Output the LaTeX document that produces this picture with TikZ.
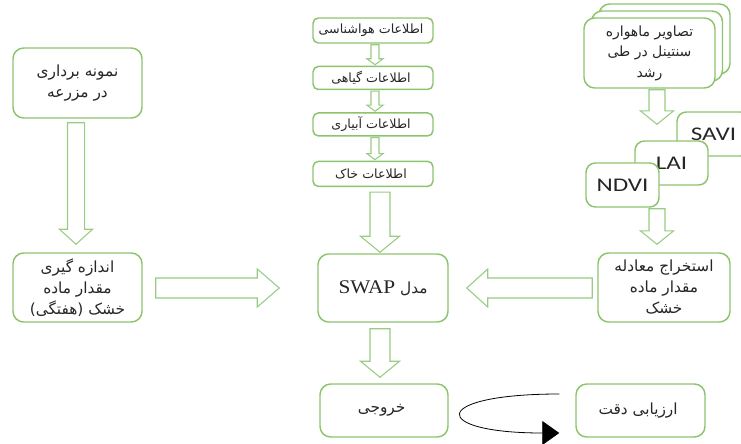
\documentclass[tikz,border=0pt]{standalone}
\usepackage{fontspec}
\usepackage{tikz}
\usetikzlibrary{arrows.meta,calc,positioning}
\TeXXeTstate=1
\newfontfamily\persianfont[Script=Arabic]{DejaVu Sans}
\newfontfamily\latinsans[FakeStretch=1.3]{Carlito}
\newfontfamily\latinserif[FakeStretch=1.1]{Liberation Serif}
\newcommand{\fa}[1]{{\persianfont\beginR #1\endR}}
\newcommand{\hollowarrow}[5]{%
	\path (#1) coordinate (hS) (#2) coordinate (hE);
	\path ($(hE)!#5!(hS)$) coordinate (hH);
	\draw[blockarrow] ($(hS)!#3!90:(hE)$) -- ($(hH)!#3!90:(hE)$) -- ($(hH)!#4!90:(hE)$) -- (hE)
		-- ($(hH)!#4!-90:(hE)$) -- ($(hH)!#3!-90:(hE)$) -- ($(hS)!#3!-90:(hE)$) -- cycle;
}
\definecolor{boxgreen}{RGB}{140,196,110}
\definecolor{arrowgreen}{RGB}{152,204,130}
\definecolor{txtgray}{RGB}{38,38,38}
\tikzstyle{stdNode} = [shape = rectangle, draw = boxgreen, line width = 1.1pt, rounded corners = 8pt, fill = white, text = txtgray, align = center, inner sep = 0pt, font = \persianfont\fontsize{11.5}{15.75}\selectfont]
\tikzstyle{smallNode} = [stdNode, rounded corners = 4pt, minimum width = 90pt, minimum height = 17.25pt, font = \persianfont\fontsize{9.5}{12}\selectfont]
\tikzstyle{indexNode} = [stdNode, rounded corners = 7pt, minimum width = 54.75pt, minimum height = 33pt, font = \latinsans\fontsize{14.5}{17}\selectfont]
\tikzstyle{blockarrow} = [draw = arrowgreen, line width = 0.8pt, fill = white]
\tikzstyle{returnarrow} = [draw = black, line width = 0.6pt, -{Triangle[length = 12.75pt, width = 18pt]}]

\begin{document}
\begin{tikzpicture}[x = 0.75pt, y = -0.75pt]
			\useasboundingbox (0,0) rectangle (741,443);
			\clip (0,0) rectangle (741,443);
			\node (Sample) at (77.5,83) [stdNode, minimum width = 96.75pt, minimum height = 52.5pt] {
				\fa{نمونه برداری}\\\fa{در مزرعه}
			};
			\node (Measure) at (77.5,287.5) [stdNode, minimum width = 96.75pt, minimum height = 51.75pt] {
				\fa{اندازه گیری}\\\fa{مقدار ماده}\\\fa{خشک (هفتگی)}
			};
			\node (Met) at (373,30.5) [smallNode, minimum height = 18.75pt] {
				\fa{اطلاعات هواشناسی}
			};
			\node (Plant) [smallNode, below = 16.5pt of Met] {
				\fa{اطلاعات گیاهی}
			};
			\node (Irrig) [smallNode, below = 16.5pt of Plant] {
				\fa{اطلاعات آبیاری}
			};
			\node (Soil) [smallNode, minimum height = 18.75pt, below = 18pt of Irrig] {
				\fa{اطلاعات خاک}
			};
			\node (Swap) at (383,288) [stdNode, minimum width = 97.5pt, minimum height = 51pt] {
				\beginR{\persianfont مدل} {\latinserif\fontsize{14.5}{18}\selectfont\beginL SWAP\endL}\endR
			};
			\node (Eq) at (664,287.5) [stdNode, minimum width = 99pt, minimum height = 51.75pt] {
				\fa{استخراج معادله}\\\fa{مقدار ماده}\\\fa{خشک}
			};
			\node (Out) at (384,410.5) [stdNode, minimum width = 96pt, minimum height = 39.75pt] {
				\fa{خروجی}
			};
			\node (Acc) at (640.5,410.5) [stdNode, minimum width = 96.75pt, minimum height = 39.75pt] {
				\fa{ارزیابی دقت}
			};
			\node (Sat3) at (664.5,39) [stdNode, minimum width = 98.25pt, minimum height = 52.5pt] {};
			\node (Sat2) at (657,46) [stdNode, minimum width = 98.25pt, minimum height = 52.5pt] {};
			\node (Sat1) at (649.5,53) [stdNode, minimum width = 98.25pt, minimum height = 52.5pt, font = \persianfont\fontsize{10.5}{15.4}\selectfont] {
				\fa{تصاویر ماهواره}\\\fa{سنتینل در طی}\\\fa{رشد}
			};
			\node (Savi) at (713.5,134) [indexNode] {SAVI};
			\node (Lai) at (671.5,163) [indexNode] {LAI};
			\node (Ndvi) at (622.5,185) [indexNode] {NDVI};
			\hollowarrow{$(Sample.south)+(-1.5,4)$}{$(Measure.north)+(-1.5,-8)$}{6.4pt}{12.4pt}{11.25pt}
			\hollowarrow{$(Measure.east)+(13,0.5)$}{$(Swap.west)+(-38,0)$}{7.5pt}{14.25pt}{16.5pt}
			\hollowarrow{$(Eq.west)+(-5,0.5)$}{$(Swap.east)+(18,0)$}{7.5pt}{14.25pt}{15.75pt}
			\hollowarrow{$(Met.south)+(2,1)$}{$(Plant.north)+(2,-1)$}{3pt}{6pt}{4.5pt}
			\hollowarrow{$(Plant.south)+(2,1)$}{$(Irrig.north)+(2,-1)$}{3pt}{6pt}{4.5pt}
			\hollowarrow{$(Irrig.south)+(2,1)$}{$(Soil.north)+(2,-1)$}{3pt}{6pt}{4.5pt}
			\hollowarrow{$(Soil.south)+(7,5)$}{$(Swap.north)+(-3,-1)$}{7.5pt}{14.6pt}{12pt}
			\hollowarrow{$(Swap.south)+(-3,6)$}{$(Out.north)+(-4,-6)$}{7.5pt}{14.6pt}{12pt}
			\hollowarrow{$(Sat1.south)+(7.5,1)$}{$(Lai.north)+(-14.5,-16)$}{6pt}{12.4pt}{10pt}
			\hollowarrow{$(Ndvi.south)+(34.5,1)$}{$(Eq.north)+(-7,-8)$}{6pt}{12.4pt}{10pt}
			\coordinate (LoopA) at ($(Acc.west)+(-16,-16.5)$);
			\coordinate (LoopB) at ($(Acc.west)+(-16,22.5)$);
			\draw[returnarrow] (LoopA) .. controls (429,394) and (429,433) .. (LoopB);
\end{tikzpicture}
\end{document}
